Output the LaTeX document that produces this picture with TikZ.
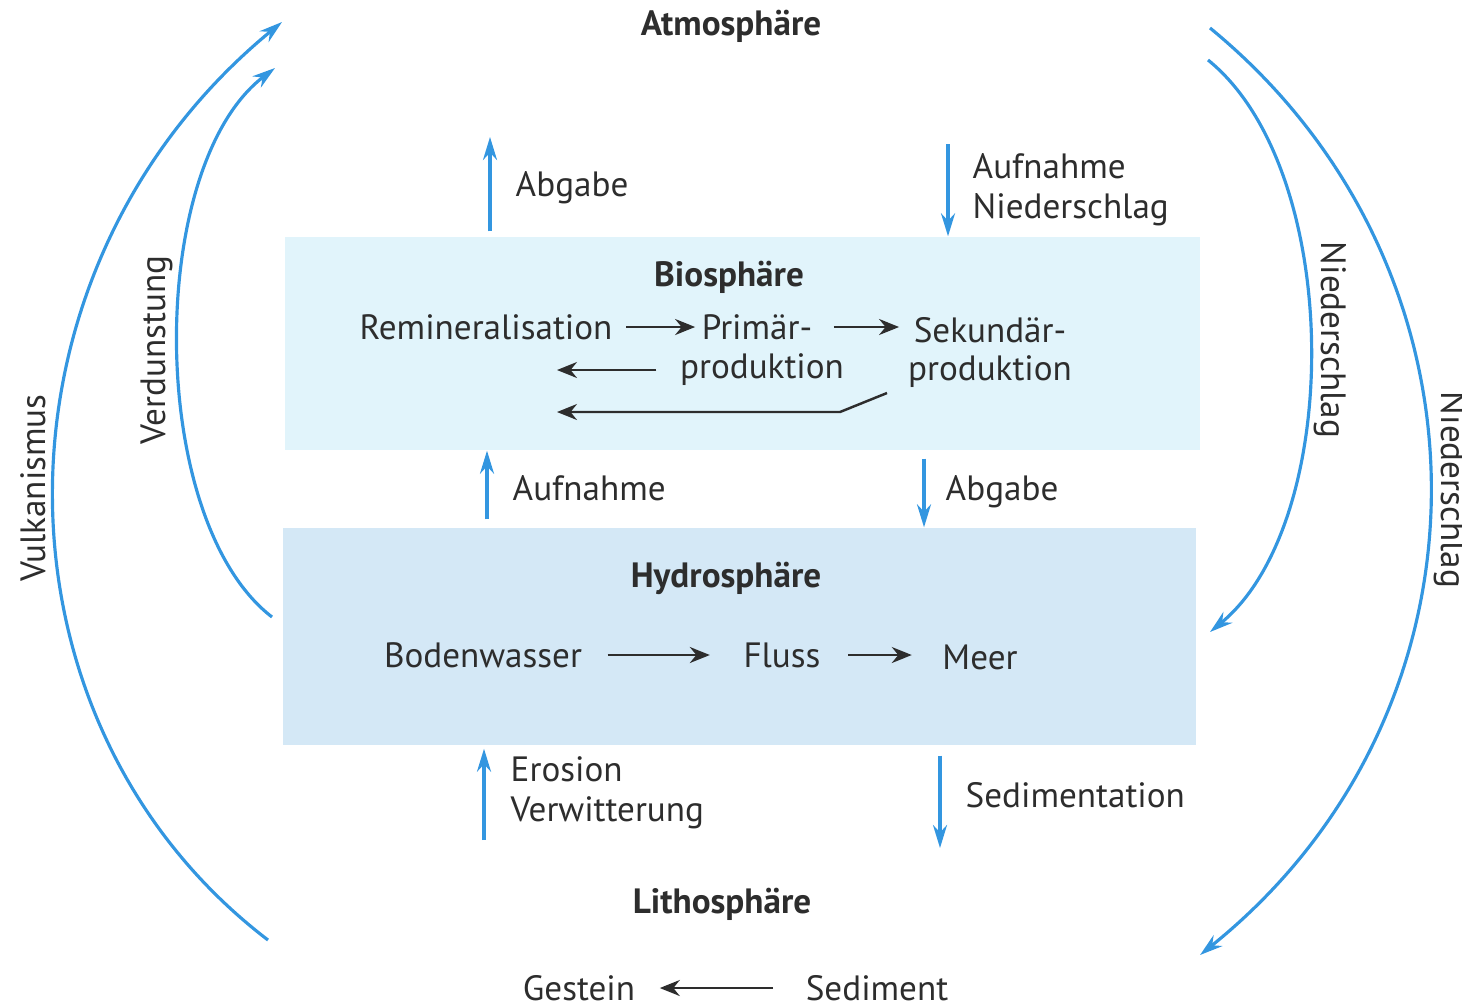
\documentclass[tikz,border=0pt]{standalone}
\usepackage{fontspec}
\setmainfont{PT Sans}
\usepackage{xcolor}
\usepackage{tikz}
\usetikzlibrary{positioning,calc,arrows.meta}

\definecolor{arrblue}{RGB}{51,150,224}
\definecolor{txt}{RGB}{45,45,45}
\definecolor{biofill}{RGB}{225,244,251}
\definecolor{hydfill}{RGB}{212,232,246}

\begin{document}
\begin{tikzpicture}[
	every node/.style={text=txt,inner sep=0pt,font=\fontsize{10}{11.5}\selectfont},
	head/.style={font=\fontsize{10}{11.5}\selectfont\bfseries},
	bluearr/.style={draw=arrblue,line width=0.9pt,-{Stealth[length=2.3mm,width=1.4mm]}},
	blackarr/.style={draw=txt,line width=0.7pt,-{Stealth[length=2mm,width=1.6mm]}}]
		\useasboundingbox (0,0) rectangle (14.62,-10.07);
		% boxes
		\node[fill=biofill,minimum width=9.15cm,minimum height=2.13cm] (bio) at (7.425,-3.435) {};
		\node[fill=hydfill,minimum width=9.13cm,minimum height=2.17cm] (hyd) at (7.395,-6.365) {};
		% spheres
		\node[head] (atm) at (7.31,-0.26) {Atmosphäre};
		\node[head] (biot) at (7.29,-2.77) {Biosphäre};
		\node[head] (hydt) at (7.26,-5.78) {Hydrosphäre};
		\node[head] (lit) at (7.22,-9.04) {Lithosphäre};
		% biosphere
		\node (b1) at (4.86,-3.27) {Remineralisation};
		\node (b2) at (7.57,-3.27) {Primär-};
		\node (b3) at (7.62,-3.70) {produktion};
		\node (b4) at (9.90,-3.30) {Sekundär-};
		\node (b5) at (9.90,-3.72) {produktion};
		\draw[blackarr,shorten <=0.13cm,shorten >=0.06cm] (b1.east) -- (b1.east -| b2.west);
		\draw[blackarr,shorten <=0.21cm,shorten >=0.14cm] (b2.east) -- (b2.east -| b4.west);
		\coordinate (c1) at (5.57,-3.70);
		\draw[blackarr,shorten <=0.23cm] (b3.west) -- (c1);
		\coordinate (c2) at (8.87,-3.93);
		\coordinate (c3) at (8.40,-4.12);
		\coordinate (c4) at (5.57,-4.12);
		\draw[blackarr] (c2) -- (c3) -- (c4);
		% hydrosphere
		\node (h1) at (4.83,-6.55) {Bodenwasser};
		\node (h2) at (7.82,-6.55) {Fluss};
		\node (h3) at (9.80,-6.57) {Meer};
		\draw[blackarr,shorten <=0.25cm,shorten >=0.33cm] (h1.east) -- (h1.east -| h2.west);
		\draw[blackarr,shorten <=0.27cm,shorten >=0.30cm] (h2.east) -- (h2.east -| h3.west);
		% lithosphere
		\node (l1) at (5.79,-9.88) {Gestein};
		\node (l2) at (8.77,-9.88) {Sediment};
		\draw[blackarr,shorten <=0.32cm,shorten >=0.24cm] (l2.west) -- (l2.west -| l1.east);
		% vertical exchanges
		\coordinate (a1) at (4.90,-1.37);
		\draw[bluearr,shorten <=0.05cm] (bio.north -| a1) -- (a1);
		\node[anchor=west] (a1t) at (5.15,-1.88) {Abgabe};
		\coordinate (a2) at (9.48,-1.44);
		\draw[bluearr] (a2) -- (bio.north -| a2);
		\node[anchor=west,align=left] (a2t) at (9.72,-1.90) {Aufnahme\\Niederschlag};
		\coordinate (a3) at (4.87,0);
		\draw[bluearr,shorten <=0.08cm] (hyd.north -| a3) -- (bio.south -| a3);
		\node[anchor=west] (a3t) at (5.12,-4.88) {Aufnahme};
		\coordinate (a4) at (9.24,0);
		\draw[bluearr,shorten <=0.08cm] (bio.south -| a4) -- (hyd.north -| a4);
		\node[anchor=west] (a4t) at (9.45,-4.92) {Abgabe};
		\coordinate (a5) at (4.84,-8.40);
		\draw[bluearr,shorten >=0.03cm] (a5) -- (hyd.south -| a5);
		\node[anchor=west,align=left] (a5t) at (5.10,-7.93) {Erosion\\Verwitterung};
		\coordinate (a6) at (9.40,-8.48);
		\draw[bluearr,shorten <=0.10cm] (hyd.south -| a6) -- (a6);
		\node[anchor=west] (a6t) at (9.65,-7.95) {Sedimentation};
		% big cycles
		\coordinate (v1) at (2.68,-9.40);
		\coordinate (v2) at (2.82,-0.22);
		\draw[bluearr] (v1) .. controls (-0.2,-7.2) and (-0.2,-2.7) .. (v2);
		\node[rotate=90] (vt) at (0.33,-4.88) {Vulkanismus};
		\coordinate (d1) at (2.72,-6.17);
		\coordinate (d2) at (2.75,-0.68);
		\draw[bluearr] (d1) .. controls (1.46,-5.2) and (1.46,-1.66) .. (d2);
		\node[rotate=90] (dt) at (1.57,-3.50) {Verdunstung};
		\coordinate (n1) at (12.08,-0.60);
		\coordinate (n2) at (12.10,-6.32);
		\draw[bluearr] (n1) .. controls (13.44,-1.7) and (13.44,-5.22) .. (n2);
		\node[rotate=-90] (nt) at (13.30,-3.40) {Niederschlag};
		\coordinate (m1) at (12.10,-0.28);
		\coordinate (m2) at (12.00,-9.55);
		\draw[bluearr] (m1) .. controls (15.05,-2.7) and (15.05,-7.1) .. (m2);
		\node[rotate=-90] (mt) at (14.50,-4.90) {Niederschlag};
	\end{tikzpicture}
\end{document}
